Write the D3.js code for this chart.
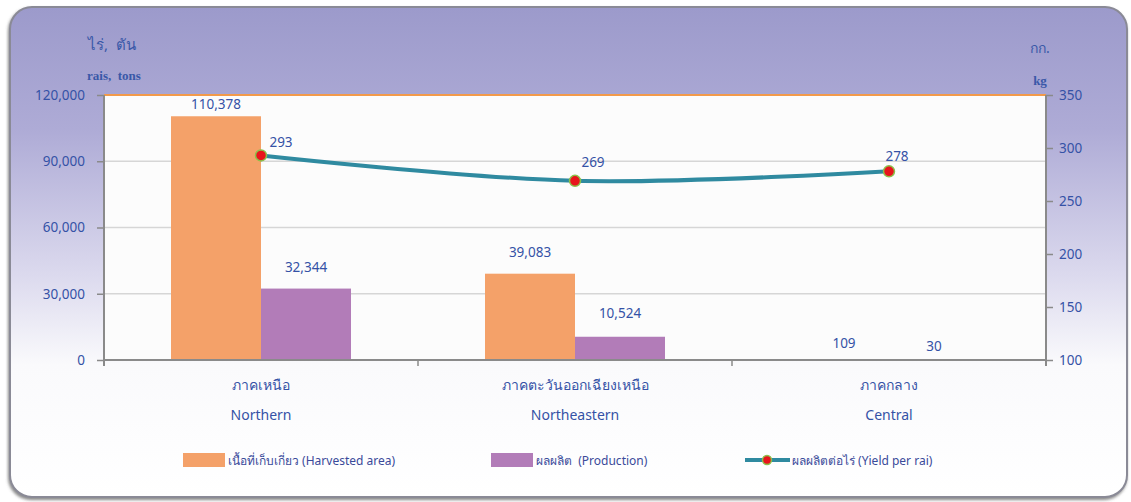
<!DOCTYPE html>
<html><head><meta charset="utf-8">
<script src="https://cdn.jsdelivr.net/npm/d3@7"></script>
<style>
html,body{margin:0;padding:0;background:#fff;}
svg{display:block;}
text{font-family:Tahoma,"Noto Sans","DejaVu Sans",sans-serif;white-space:pre;}
text.serif{font-family:"Liberation Serif","Times New Roman",serif;font-weight:bold;}
</style></head>
<body>
<svg id="chart" width="1131" height="502"></svg>
<script>
const categoriesTh = ["ภาคเหนือ", "ภาคตะวันออกเฉียงเหนือ", "ภาคกลาง"];
const categoriesEn = ["Northern", "Northeastern", "Central"];
const harvestedArea = [110378, 39083, 109];
const production = [32344, 10524, 30];
const yieldPerRai = [293, 269, 278];
const leftTicks = [0, 30000, 60000, 90000, 120000];
const rightTicks = [100, 150, 200, 250, 300, 350];
const seriesNames = ["เนื้อที่เก็บเกี่ยว (Harvested area)", "ผลผลิต  (Production)", "ผลผลิตต่อไร่ (Yield per rai)"];
// label offsets (px above mark) as placed in the original
const areaLabelDy = [7, 17, 12];
const prodLabelDy = [17, 19, 9];
const yieldLabelDx = [20, 18, 8];
const yieldLabelDy = [8, 14, 10];

const svg = d3.select("#chart");
const m = {l:104, r:1046, t:95, b:360};
const blue = "#3552a6";
const orange = "#f4a169", purple = "#b27cb8", teal = "#2f8aa0";

const defs = svg.append("defs");
const g = defs.append("linearGradient").attr("id","bg").attr("x1",0).attr("y1",0).attr("x2",0).attr("y2",1);
g.append("stop").attr("offset","0%").attr("stop-color","#9c9acb");
g.append("stop").attr("offset","25%").attr("stop-color","#aeabd6");
g.append("stop").attr("offset","55%").attr("stop-color","#dcdaee");
g.append("stop").attr("offset","73%").attr("stop-color","#fafafc");
g.append("stop").attr("offset","100%").attr("stop-color","#ffffff");
const f = defs.append("filter").attr("id","sh").attr("x","-5%").attr("y","-5%").attr("width","110%").attr("height","110%");
f.append("feDropShadow").attr("dx",-1).attr("dy",2).attr("stdDeviation",1.5).attr("flood-color","#555").attr("flood-opacity",0.7);

// frame
svg.append("rect").attr("x",10).attr("y",7).attr("width",1117).attr("height",490).attr("rx",22)
  .attr("fill","url(#bg)").attr("stroke","#8a8a96").attr("stroke-width",2).attr("filter","url(#sh)");

// plot area
svg.append("rect").attr("x",m.l).attr("y",m.t).attr("width",m.r-m.l).attr("height",m.b-m.t).attr("fill","#fcfcfc");

const x0 = d3.scaleBand().domain(categoriesEn).range([m.l, m.r]).padding(0);
const x1 = d3.scaleBand().domain(["area","prod"]).range([67, x0.bandwidth()-67]).padding(0);
const yL = d3.scaleLinear().domain([0,120000]).range([m.b, m.t]);
const yR = d3.scaleLinear().domain([100,350]).range([m.b, m.t]);

// gridlines
svg.append("g").selectAll("line").data(leftTicks.filter(d=>d>0 && d<120000)).join("line")
  .attr("x1",m.l).attr("x2",m.r).attr("y1",d=>yL(d)).attr("y2",d=>yL(d))
  .attr("stroke","#d6d6d6").attr("stroke-width",1.5);

// top orange border
svg.append("line").attr("x1",m.l).attr("x2",m.r).attr("y1",m.t).attr("y2",m.t).attr("stroke","#f29a4a").attr("stroke-width",2);

// bars
const grp = svg.append("g").selectAll("g").data(categoriesEn).join("g")
  .attr("transform",d=>`translate(${x0(d)},0)`);
grp.append("rect").attr("x",x1("area")).attr("width",x1.bandwidth())
  .attr("y",(d,i)=>yL(harvestedArea[i])).attr("height",(d,i)=>m.b-yL(harvestedArea[i])).attr("fill",orange);
grp.append("rect").attr("x",x1("prod")).attr("width",x1.bandwidth())
  .attr("y",(d,i)=>yL(production[i])).attr("height",(d,i)=>m.b-yL(production[i])).attr("fill",purple);
const fmt = d3.format(",");
grp.append("text").attr("x",x1("area")+x1.bandwidth()/2).attr("y",(d,i)=>yL(harvestedArea[i])-areaLabelDy[i])
  .attr("text-anchor","middle").attr("font-size",13.5).attr("fill",blue).text((d,i)=>fmt(harvestedArea[i]));
grp.append("text").attr("x",x1("prod")+x1.bandwidth()/2).attr("y",(d,i)=>yL(production[i])-prodLabelDy[i])
  .attr("text-anchor","middle").attr("font-size",13.5).attr("fill",blue).text((d,i)=>fmt(production[i]));

// axes
const axisColor = "#8a8a8a";
const gl = svg.append("g").attr("transform",`translate(${m.l},0)`)
  .call(d3.axisLeft(yL).tickValues(leftTicks).tickFormat(fmt).tickSize(7).tickPadding(12));
const gr = svg.append("g").attr("transform",`translate(${m.r},0)`)
  .call(d3.axisRight(yR).tickValues(rightTicks).tickSize(7).tickPadding(6));
const gb = svg.append("g").attr("transform",`translate(0,${m.b})`)
  .call(d3.axisBottom(x0).tickValues([]).tickSize(0));
[gl,gr,gb].forEach(a=>{
  a.select(".domain").attr("stroke",axisColor).attr("stroke-width",2);
  a.selectAll(".tick line").attr("stroke",axisColor).attr("stroke-width",1.5);
  a.selectAll(".tick text").attr("fill",blue).attr("font-size",13.5);
});
gl.select(".domain").attr("d",`M0,${m.t}V${m.b+6}`);
gr.select(".domain").attr("d",`M0,${m.t}V${m.b+6}`);
gb.select(".domain").attr("d",`M${m.l},0H${m.r}`);
// category separators
const seps = categoriesEn.slice(1).map(c=>x0(c));
svg.append("g").selectAll("line").data(seps).join("line")
  .attr("x1",d=>d).attr("x2",d=>d).attr("y1",m.b).attr("y2",m.b+6).attr("stroke",axisColor).attr("stroke-width",1.5);

// category labels
const cl = svg.append("g").selectAll("g").data(categoriesEn).join("g")
  .attr("transform",d=>`translate(${x0(d)+x0.bandwidth()/2},0)`);
cl.append("text").attr("y",390).attr("text-anchor","middle").attr("font-size",14).attr("fill",blue).text((d,i)=>categoriesTh[i]);
cl.append("text").attr("y",420).attr("text-anchor","middle").attr("font-size",14).attr("fill",blue).text(d=>d);

// line
const pts = categoriesEn.map((c,i)=>[x0(c)+x0.bandwidth()/2, yR(yieldPerRai[i])]);
svg.append("path").attr("d",d3.line().curve(d3.curveCatmullRom.alpha(0.5))(pts))
  .attr("fill","none").attr("stroke",teal).attr("stroke-width",4);
svg.append("g").selectAll("circle").data(pts).join("circle")
  .attr("cx",d=>d[0]).attr("cy",d=>d[1]).attr("r",5.5).attr("fill","#e8141c").attr("stroke","#8cc04a").attr("stroke-width",1.5);
svg.append("g").selectAll("text").data(pts).join("text")
  .attr("x",(d,i)=>d[0]+yieldLabelDx[i]).attr("y",(d,i)=>d[1]-yieldLabelDy[i]).attr("text-anchor","middle")
  .attr("font-size",13.5).attr("fill",blue).text((d,i)=>yieldPerRai[i]);

// unit labels
svg.append("text").attr("x",112).attr("y",50).attr("text-anchor","middle").attr("font-size",15).attr("fill","#3a58a8").text("ไร่,  ตัน");
svg.append("text").attr("class","serif").attr("x",114).attr("y",80).attr("text-anchor","middle").attr("font-size",13)
  .attr("fill","#3a58a8").text("rais,  tons");
svg.append("text").attr("x",1040).attr("y",53).attr("text-anchor","middle").attr("font-size",14).attr("fill","#3a58a8").text("กก.");
svg.append("text").attr("class","serif").attr("x",1040).attr("y",85).attr("text-anchor","middle").attr("font-size",13)
  .attr("fill","#3a58a8").text("kg");

// legend
const lg = svg.append("g");
const lx = [183, 491, 745];
lg.append("rect").attr("x",lx[0]).attr("y",453).attr("width",42).attr("height",14).attr("fill",orange);
lg.append("rect").attr("x",lx[1]).attr("y",453).attr("width",42).attr("height",14).attr("fill",purple);
lg.append("line").attr("x1",lx[2]).attr("x2",lx[2]+45).attr("y1",460).attr("y2",460).attr("stroke",teal).attr("stroke-width",4);
lg.append("circle").attr("cx",lx[2]+22).attr("cy",460).attr("r",4.5).attr("fill","#e8141c").attr("stroke","#8cc04a").attr("stroke-width",1.5);
lg.selectAll("text.l").data(seriesNames).join("text").attr("class","l")
  .attr("x",(d,i)=>[228,536,792][i]).attr("y",464.5).attr("font-size",12).attr("fill","#3a4a9a").text(d=>d);
</script>
</body></html>
